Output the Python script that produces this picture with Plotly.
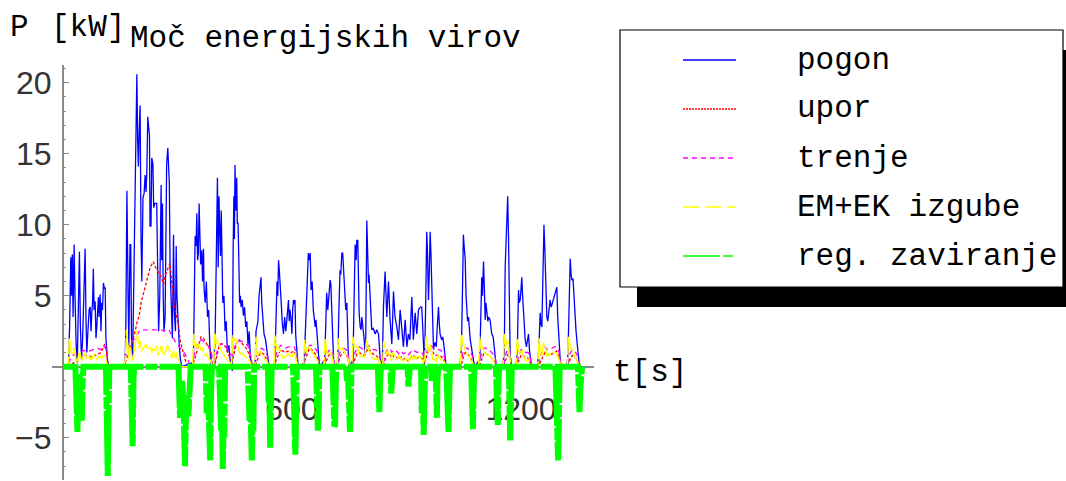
import plotly.graph_objects as go

# ---------------- data: (time [s], power [kW]) breakpoints ----------------
pogon = [
    (0, 0), (15, 0), (18, 3.0), (21, 7.7), (23, 5.0), (25, 7.9), (27, 3.5), (29.7, 8.6), (32, 5.0),
    (35, 1.5), (38, 0.3), (41, 5.0), (43.6, 8.1), (46, 3.0), (49, 0.5), (52, 2.0), (56, 6.0),
    (58.5, 8.3), (61, 3.0), (63, 1.0), (66, 2.6), (69, 4.0), (71.6, 4.2), (74, 2.5), (76, 3.8),
    (78, 4.5), (80, 6.9), (82, 4.0), (84.7, 4.6), (87, 2.0), (89, 2.8), (91, 4.5), (93.4, 4.9),
    (95, 3.5), (97.8, 5.1), (100, 2.5), (102, 4.5), (104, 4.0), (106.5, 5.9), (109, 5.5),
    (111, 5.6), (113, 2.0), (115, 0.8), (118, 0.1), (120, 0),
    (163, 0), (165, 2.5), (168, 12.4), (171, 5.0), (173, 1.5), (176, 8.6), (178, 8.6), (180, 2.0),
    (183, 0.5), (186, 6.0), (190, 13.2), (194, 20.6), (196, 16.0), (198, 14.1), (200, 16.5),
    (202.5, 18.4), (205, 9.0), (207, 6.0), (210, 11.9), (213, 12.2), (215.6, 13.5), (218, 12.3),
    (220, 13.6), (222.6, 17.6), (225, 16.8), (227, 16.3), (228.5, 9.9), (231, 9.9), (233, 14.7),
    (236, 14.3), (238, 11.2), (241, 11.5), (246, 11.5), (248, 7.0), (251, 2.5), (254, 5.0),
    (257.5, 12.8), (259, 7.5), (261, 11.5), (263, 5.0), (265, 2.5), (268, 3.5), (270, 9.0),
    (272, 14.3), (275, 15.4), (277, 13.0), (279, 12.9), (281, 7.0), (284, 3.5), (287, 2.0),
    (290, 9.3), (292, 4.0), (295, 2.5), (297, 8.5), (299, 5.0), (302, 3.0), (305, 1.5),
    (308, 0.5), (312, 0),
    (342, 0.3), (344, 5.0), (346.6, 9.2), (349, 8.5), (351, 10.8), (353, 7.5), (355, 8.0),
    (357, 11.5), (359, 8.5), (361, 7.2), (364, 8.2), (366, 6.0), (368.5, 8.3), (370, 5.5),
    (373, 4.5), (376, 6.0), (379, 3.5), (382, 4.0), (385, 1.5), (388, 0.2), (392, 0),
    (395, 0), (399, 2.0), (402, 9.0), (405, 13.3), (407, 7.0), (409, 12.0), (411, 9.6),
    (413, 7.8), (415, 11.0), (417, 6.0), (419, 4.5), (422, 5.0), (425, 2.5), (428, 3.2),
    (431, 1.0), (435, 1.5), (438, 0.5), (441, 0.2), (444, -0.3), (446, 8.0), (448, 12.0),
    (449.5, 9.0), (451, 14.2), (453, 11.0), (455.5, 13.3), (457, 10.1), (459, 10.1), (461, 7.5),
    (463, 4.5), (465, 5.0), (467, 4.2), (470, 4.7), (473, 3.6), (476, 4.2), (479, 2.8),
    (482, 3.2), (485, 1.5), (488, 2.5), (491, 0.8), (495, 0),
    (504, 0.3), (506, 2.5), (508, 2.8), (511, 3.2), (514, 5.0), (517, 6.2), (519, 6.3),
    (521, 4.5), (524, 3.5), (527, 2.3), (531, 1.9), (535, 0.8), (539, 0.2), (542, 0),
    (555, 0.2), (558, 3.0), (561, 6.0), (563, 5.0), (565, 7.5), (567, 6.8), (569, 5.4),
    (572, 4.5), (575, 3.0), (578, 2.3), (581, 3.5), (584, 2.5), (586.7, 3.3), (589, 4.2),
    (591, 4.7), (593, 3.2), (595, 4.0), (598, 3.2), (600, 2.3), (602, 4.0), (604, 4.7),
    (606, 4.4), (608, 4.7), (610, 2.2), (613, 0.9), (616, 0.1), (619, 0),
    (632, 0.3), (636, 3.0), (640, 6.5), (643, 8.0), (646, 7.5), (648, 8.0), (650, 5.4),
    (653, 6.0), (656, 4.0), (658, 3.5), (661, 2.8), (663, 3.3), (665, 2.3), (668, 1.5),
    (671, 0.3), (674, 0),
    (686, 0.5), (689, 3.5), (691, 5.2), (694, 4.0), (697, 5.5), (700, 6.1), (702, 5.8),
    (704.5, 4.2), (706, 3.0), (709, 0.5), (712, 0),
    (720, 0.3), (723, 4.0), (726, 6.8), (728, 6.5), (730.7, 8.0), (733, 8.0), (735, 6.8),
    (737, 5.5), (739.4, 4.2), (741, 4.0), (743.8, 4.5), (746, 2.0), (748, 0.5), (751, 0),
    (760, 0.5), (763, 5.0), (765.6, 8.6), (768, 7.5), (770, 8.9), (772.5, 8.9), (774.3, 4.7),
    (776, 3.8), (778.7, 2.8), (781, 2.6), (783, 3.5), (786, 2.8), (789, 2.0), (791.8, 0.8),
    (793, 1.0), (796.1, 10.3), (798, 8.0), (800.5, 5.9), (802, 6.5), (804.9, 4.7), (807, 3.5),
    (809, 2.6), (813, 2.7), (818, 2.3), (822, 2.6), (826.7, 2.3), (829, 1.5), (831, 0.5),
    (834, 0),
    (837, 0.5), (839.8, 4.3), (844, 6.7), (848.5, 3.5), (852.9, 6.0), (857, 3.3), (861.6, 1.6),
    (866, 5.3), (870, 3.5), (874.7, 2.8), (879, 1.9), (883.4, 4.0), (887.8, 2.3), (892, 1.4),
    (896.5, 3.3), (901, 1.4), (905, 2.3), (909, 1.9), (914, 4.9), (918, 1.9), (922.7, 3.8),
    (927, 2.3), (931.5, 4.0), (936, 4.2), (940, 4.2), (944.5, 1.4), (947, 0.2),
    (950, 4.0), (953, 9.5), (955, 8.0), (957.6, 4.7), (960, 7.0), (962, 9.5), (964, 8.0),
    (966.4, 5.2), (968, 3.0), (970.7, 1.2), (974, 1.7), (978, 1.4), (981, 3.0), (983.8, 4.2),
    (986, 3.0), (988, 2.3), (992, 1.9), (995, 2.1), (998, 1.5), (1001, 0.5), (1004, 0),
    (1040, 0), (1044, 1.4), (1047, 6.0), (1049, 9.3), (1051, 8.5), (1053.7, 7.6), (1056, 5.0),
    (1058, 4.0), (1060, 3.2), (1062.4, 3.5), (1065, 2.5), (1067, 1.9), (1071, 1.2),
    (1075.5, 0.5), (1078, 0),
    (1092, 0.5), (1095, 4.0), (1097, 6.3), (1099, 5.0), (1101.7, 7.4), (1104, 5.5), (1106, 3.3),
    (1108, 4.5), (1110.4, 3.8), (1113, 3.2), (1115, 3.5), (1119, 3.3), (1121, 2.8),
    (1123.5, 2.3), (1127, 2.1), (1130, 1.2), (1132, 0.5), (1135, 0),
    (1152, 0), (1156, 1.0), (1158.4, 7.0), (1161, 9.0), (1165, 12.0), (1167, 9.4), (1169, 5.0),
    (1171.5, 0.7), (1174, 0),
    (1186, 0), (1190, 1.0), (1193.4, 5.4), (1195, 4.5), (1197.8, 4.7), (1200, 5.5), (1202, 6.3),
    (1204, 5.0), (1206.4, 3.8), (1208, 2.8), (1210.8, 1.9), (1214, 1.4), (1217, 2.0),
    (1219.5, 2.3), (1222, 1.2), (1224, 0.5), (1227, 0),
    (1243, 0), (1247, 1.5), (1250, 3.8), (1252, 3.0), (1254.5, 2.8), (1257, 7.0), (1260, 10.0),
    (1262, 8.5), (1264, 7.0), (1266, 5.0), (1267.5, 3.5), (1270, 3.2), (1273, 4.0), (1276, 4.7),
    (1279, 4.2), (1282, 4.5), (1285, 4.9), (1289, 5.1), (1293.7, 5.6), (1296, 3.5), (1298, 2.3),
    (1300, 1.2), (1302.5, 0.5), (1305, 0),
    (1320, 0), (1323, 1.0), (1326, 5.0), (1328.7, 7.6), (1331, 6.5), (1333, 6.1), (1336, 6.2),
    (1338, 5.0), (1341.8, 3.5), (1344, 2.5), (1346, 1.9), (1348.5, 1.0), (1350.5, 0.5),
    (1353, 0), (1360, 0),
]

upor = [
    (0, 0), (15, 0), (25, 0.2), (35, 0.4), (45, 0.6), (55, 0.8), (65, 0.8), (75, 0.7), (85, 0.8),
    (95, 0.9), (100, 1.0), (105, 1.3), (110, 1.6), (114, 1.2), (118, 0.2), (120, 0),
    (160, 0), (165, 0.4), (172, 1.0), (180, 1.5), (188, 2.3), (195, 3.2), (200, 3.6), (205, 4.5),
    (212, 5.2), (220, 5.9), (229, 7.0), (237, 7.4), (246, 6.8), (255, 6.5), (264, 5.8),
    (268, 6.4), (275, 6.9), (281, 7.3), (285, 6.0), (290, 4.7), (298, 3.5), (303, 3.0),
    (307, 1.9), (313, 1.2), (320, 0.5), (328, 0.1), (335, 0),
    (338, 0), (344, 0.4), (350, 1.0), (356, 1.6), (362, 2.1), (368, 2.0), (374, 1.7), (380, 1.5),
    (386, 1.2), (390, 0.5), (393, 0),
    (397, 0), (402, 0.6), (408, 1.3), (414, 1.6), (420, 1.6), (426, 1.4), (432, 1.0), (438, 0.6),
    (444, 0.4), (450, 1.2), (456, 1.8), (462, 1.9), (468, 1.7), (474, 1.5), (480, 1.3),
    (486, 1.0), (492, 0.5), (497, 0),
    (503, 0), (508, 0.4), (514, 0.8), (520, 1.0), (526, 0.9), (532, 0.6), (538, 0.3), (542, 0),
    (552, 0), (558, 0.4), (564, 0.9), (570, 1.2), (576, 1.1), (582, 1.0), (590, 1.1), (598, 1.0),
    (606, 1.1), (612, 0.6), (618, 0),
    (628, 0), (634, 0.4), (640, 0.9), (646, 1.3), (652, 1.2), (658, 1.0), (664, 0.8), (670, 0.4),
    (676, 0),
    (684, 0), (690, 0.4), (696, 0.8), (702, 0.9), (708, 0.5), (713, 0),
    (718, 0), (724, 0.5), (730, 0.9), (736, 1.0), (742, 0.9), (748, 0.4), (752, 0),
    (758, 0), (764, 0.5), (770, 0.9), (776, 1.0), (782, 0.9), (788, 0.8), (794, 1.0), (800, 1.3),
    (806, 1.1), (812, 0.9), (818, 0.8), (824, 0.7), (830, 0.4), (835, 0),
    (838, 0), (844, 0.5), (850, 0.8), (856, 0.9), (862, 0.6), (868, 0.8), (874, 0.7), (880, 0.5),
    (886, 0.7), (892, 0.5), (898, 0.6), (904, 0.4), (910, 0.6), (916, 0.8), (922, 0.7),
    (928, 0.6), (934, 0.7), (940, 0.6), (946, 0.3), (950, 0.5), (956, 1.0), (962, 1.3),
    (968, 1.1), (974, 0.8), (980, 0.8), (986, 0.8), (992, 0.7), (998, 0.5), (1004, 0),
    (1042, 0), (1048, 0.6), (1054, 1.0), (1060, 0.9), (1066, 0.7), (1072, 0.4), (1078, 0),
    (1090, 0), (1096, 0.5), (1102, 0.9), (1108, 0.9), (1114, 0.8), (1120, 0.7), (1126, 0.5),
    (1132, 0.3), (1136, 0),
    (1154, 0), (1160, 0.5), (1166, 0.9), (1172, 0.5), (1176, 0),
    (1188, 0), (1194, 0.4), (1200, 0.8), (1206, 0.8), (1212, 0.6), (1218, 0.6), (1224, 0.3),
    (1228, 0),
    (1245, 0), (1251, 0.4), (1257, 0.7), (1263, 1.0), (1269, 0.8), (1275, 0.8), (1281, 0.9),
    (1287, 1.0), (1293, 1.1), (1299, 0.7), (1305, 0),
    (1322, 0), (1328, 0.5), (1334, 0.8), (1340, 0.7), (1346, 0.5), (1352, 0), (1360, 0),
]

trenje = [
    (0, 0), (15, 0), (18, 0.4), (25, 0.8), (35, 0.9), (45, 1.0), (55, 1.1), (62, 1.2), (70, 1.1),
    (80, 1.2), (90, 1.3), (100, 1.2), (106, 1.5), (112, 1.3), (117, 0.4), (120, 0),
    (160, 0), (165, 0.8), (172, 1.3), (180, 1.8), (186, 1.9), (192, 2.1), (198, 2.4), (204, 2.6),
    (215, 2.6), (230, 2.6), (245, 2.6), (258, 2.6), (265, 2.5), (270, 2.6), (278, 2.6),
    (284, 2.3), (290, 1.9), (298, 1.6), (305, 1.4), (312, 1.2), (320, 0.9), (328, 0.5), (334, 0),
    (338, 0), (344, 0.8), (350, 1.3), (356, 1.7), (362, 1.9), (368, 1.8), (374, 1.6), (380, 1.5),
    (386, 1.3), (392, 0.6), (395, 0),
    (397, 0), (402, 0.9), (408, 1.4), (414, 1.6), (420, 1.6), (426, 1.5), (432, 1.2), (438, 0.9),
    (444, 0.8), (450, 1.4), (456, 1.7), (462, 1.8), (468, 1.8), (474, 1.7), (480, 1.6),
    (486, 1.4), (492, 0.8), (497, 0),
    (503, 0), (508, 0.8), (514, 1.1), (520, 1.3), (526, 1.2), (532, 1.0), (538, 0.6), (542, 0),
    (552, 0), (558, 0.8), (564, 1.2), (570, 1.5), (576, 1.4), (582, 1.3), (590, 1.4), (598, 1.4),
    (606, 1.4), (612, 0.9), (618, 0),
    (628, 0), (634, 0.8), (640, 1.2), (646, 1.5), (652, 1.5), (658, 1.3), (664, 1.2), (670, 0.8),
    (676, 0),
    (684, 0), (690, 0.8), (696, 1.1), (702, 1.2), (708, 0.9), (713, 0),
    (718, 0), (724, 0.9), (730, 1.2), (736, 1.3), (742, 1.2), (748, 0.8), (752, 0),
    (758, 0), (764, 0.9), (770, 1.3), (776, 1.4), (782, 1.3), (788, 1.2), (794, 1.3), (800, 1.5),
    (806, 1.4), (812, 1.2), (818, 1.2), (824, 1.1), (830, 0.8), (835, 0),
    (838, 0), (844, 0.9), (850, 1.2), (856, 1.3), (862, 1.0), (868, 1.2), (874, 1.1), (880, 0.9),
    (886, 1.1), (892, 0.9), (898, 1.0), (904, 0.8), (910, 1.0), (916, 1.2), (922, 1.1),
    (928, 1.0), (934, 1.1), (940, 1.0), (946, 0.7), (950, 0.9), (956, 1.3), (962, 1.5),
    (968, 1.4), (974, 1.2), (980, 1.2), (986, 1.2), (992, 1.1), (998, 0.9), (1004, 0),
    (1042, 0), (1048, 1.0), (1054, 1.3), (1060, 1.3), (1066, 1.1), (1072, 0.8), (1078, 0),
    (1090, 0), (1096, 0.9), (1102, 1.3), (1108, 1.3), (1114, 1.2), (1120, 1.1), (1126, 0.9),
    (1132, 0.7), (1136, 0),
    (1154, 0), (1160, 0.9), (1166, 1.3), (1172, 0.9), (1176, 0),
    (1188, 0), (1194, 0.8), (1200, 1.2), (1206, 1.2), (1212, 1.0), (1218, 1.0), (1224, 0.7),
    (1228, 0),
    (1245, 0), (1251, 0.8), (1257, 1.1), (1263, 1.4), (1269, 1.2), (1275, 1.2), (1281, 1.3),
    (1287, 1.4), (1293, 1.4), (1299, 1.1), (1305, 0),
    (1322, 0), (1328, 0.9), (1334, 1.2), (1340, 1.1), (1346, 0.9), (1352, 0), (1360, 0),
]

izgube = [
    (0, 0), (15, 0), (17, 2.0), (20, 1.6), (23, 0.9), (26, 1.2), (30, 1.3), (34, 0.5), (38, 0.3),
    (42, 0.9), (45, 1.0), (49, 0.4), (54, 0.7), (58, 1.0), (62, 0.5), (66, 0.6), (70, 0.7),
    (74, 0.5), (78, 0.6), (81, 0.9), (85, 0.6), (89, 0.5), (93, 0.7), (98, 0.7), (102, 0.6),
    (107, 0.8), (111, 0.8), (115, 0.3), (119, 0),
    (160, 0), (164, 0.5), (167, 2.6), (170, 1.2), (173, 0.5), (176, 1.4), (179, 1.0), (183, 0.4),
    (187, 1.0), (191, 1.9), (194, 2.5), (197, 1.9), (200, 1.3), (203, 1.8), (206, 1.1),
    (210, 1.3), (214, 1.4), (218, 1.6), (222, 1.3), (226, 1.2), (230, 1.4), (234, 1.0),
    (238, 1.3), (242, 1.1), (246, 1.5), (250, 0.8), (254, 1.0), (258, 1.5), (262, 1.0),
    (266, 0.8), (270, 1.2), (274, 1.5), (278, 1.3), (282, 0.9), (286, 0.6), (290, 1.1),
    (294, 0.6), (297, 1.0), (301, 0.5), (305, 0.3), (310, 0),
    (340, 0), (343, 2.3), (346, 1.4), (350, 1.6), (353, 1.2), (357, 1.6), (361, 1.2), (365, 1.3),
    (369, 1.0), (373, 0.8), (377, 0.9), (381, 0.6), (385, 0.5), (389, 0.3), (392, 0),
    (395, 0), (398, 2.4), (402, 1.6), (405, 1.9), (409, 1.5), (413, 1.3), (417, 1.0), (421, 0.9),
    (425, 0.6), (429, 0.6), (433, 0.4), (438, 0.3), (442, 0.2), (445, 2.2), (448, 1.8),
    (451, 2.0), (455, 1.8), (459, 1.5), (463, 1.0), (467, 0.9), (471, 0.9), (475, 0.8),
    (479, 0.7), (483, 0.6), (487, 0.5), (491, 0.3), (495, 0),
    (503, 0), (506, 2.1), (509, 0.8), (513, 0.9), (517, 1.1), (521, 0.9), (525, 0.7), (529, 0.5),
    (534, 0.4), (539, 0.2), (542, 0),
    (553, 0), (556, 2.2), (560, 1.2), (565, 1.4), (569, 1.0), (573, 0.8), (578, 0.6), (582, 0.7),
    (587, 0.8), (591, 0.9), (595, 0.8), (600, 0.6), (604, 0.9), (608, 0.9), (612, 0.4), (617, 0),
    (630, 0), (633, 1.9), (637, 1.0), (641, 1.3), (645, 1.4), (649, 1.2), (653, 1.0), (657, 0.8),
    (661, 0.6), (665, 0.5), (670, 0.3), (675, 0),
    (684, 0), (687, 2.0), (691, 1.0), (695, 0.9), (699, 1.1), (703, 0.9), (707, 0.5), (711, 0),
    (718, 0), (721, 2.0), (725, 1.2), (729, 1.3), (733, 1.3), (737, 1.0), (741, 0.8), (745, 0.7),
    (749, 0.3), (752, 0),
    (757, 0), (760, 2.1), (764, 1.3), (768, 1.4), (772, 1.4), (776, 0.9), (780, 0.7), (784, 0.7),
    (788, 0.6), (792, 0.9), (795, 1.9), (798, 1.5), (802, 1.1), (806, 0.9), (810, 0.6),
    (815, 0.6), (820, 0.5), (825, 0.6), (830, 0.4), (834, 0),
    (838, 0), (840, 1.8), (844, 1.2), (848, 0.8), (852, 1.1), (856, 0.7), (860, 0.4), (864, 1.0),
    (868, 0.8), (872, 0.6), (876, 0.5), (880, 0.8), (884, 0.6), (888, 0.4), (892, 0.4),
    (896, 0.7), (900, 0.5), (904, 0.5), (908, 0.4), (912, 0.9), (916, 0.6), (920, 0.7),
    (924, 0.5), (928, 0.7), (932, 0.7), (936, 0.6), (940, 0.7), (944, 0.3), (948, 0.5),
    (951, 2.1), (954, 1.6), (958, 1.0), (962, 1.6), (966, 1.0), (970, 0.4), (974, 0.5),
    (978, 0.4), (982, 0.8), (986, 0.6), (990, 0.5), (995, 0.5), (1000, 0.3), (1004, 0),
    (1041, 0), (1044, 2.3), (1048, 1.6), (1052, 1.4), (1056, 1.0), (1060, 0.8), (1064, 0.7),
    (1068, 0.5), (1072, 0.3), (1077, 0),
    (1089, 0), (1092, 2.1), (1096, 1.2), (1100, 1.4), (1104, 1.0), (1108, 0.9), (1112, 0.8),
    (1116, 0.8), (1120, 0.7), (1124, 0.5), (1128, 0.4), (1132, 0.2), (1135, 0),
    (1153, 0), (1156, 2.3), (1159, 1.3), (1163, 1.9), (1166, 1.7), (1169, 0.9), (1172, 0.3),
    (1175, 0),
    (1187, 0), (1190, 2.0), (1194, 1.1), (1198, 1.0), (1202, 1.2), (1206, 0.8), (1210, 0.5),
    (1214, 0.4), (1218, 0.5), (1222, 0.3), (1226, 0),
    (1244, 0), (1247, 2.0), (1251, 0.9), (1255, 0.8), (1259, 1.7), (1263, 1.5), (1267, 0.8),
    (1271, 0.8), (1275, 0.9), (1279, 0.9), (1283, 0.9), (1287, 1.0), (1291, 1.0), (1295, 0.8),
    (1299, 0.5), (1303, 0.2), (1306, 0),
    (1321, 0), (1324, 2.1), (1328, 1.5), (1332, 1.2), (1336, 1.2), (1340, 0.8), (1344, 0.5),
    (1348, 0.3), (1352, 0), (1360, 0),
]

zaviranje = [
    (0, 0), (33, 0), (36, -2.5), (38.4, -4.6), (41, -1.5), (44, -0.5), (47, -2.5), (49.8, -3.8),
    (52, -1.0), (54, 0),
    (113, 0), (115, -2.0), (117.9, -7.7), (120, -3.0), (122, 0),
    (178, 0), (181, -3.0), (183, -5.6), (185, -1.0), (187, 0),
    (303, 0), (305, -1.0), (307, -3.6), (309, -2.0), (312, -1.0), (316, -2.5), (320, -7.0),
    (323, -3.0), (326, -2.0), (329, -3.5), (331, -1.0), (333, -2.7), (335, 0),
    (374, 0), (377, -3.3), (380, -1.5), (383, -4.5), (386, -6.6), (388, -2.0), (390, 0),
    (409, 0), (412, -2.5), (414.7, -4.5), (417, -3.0), (419, -7.2), (421, -4.0), (423, -5.0),
    (425, 0),
    (484, 0), (486, -2.0), (489, -3.8), (491, -2.5), (495, -6.6), (497, -4.0), (499, -4.5),
    (501, 0),
    (537, 0), (539, -2.5), (541, -1.5), (543, -5.7), (545, -2.0), (547, 0),
    (603, 0), (605, -2.0), (607, -3.5), (609, -6.2), (611, -3.0), (613, 0),
    (663, 0), (665, -2.5), (668, -4.5), (670, -3.5), (672, 0),
    (706, 0), (708, -1.3), (711, -4.2), (713, -4.1), (715, -1.0), (717, 0),
    (742, 0), (744, -1.0), (746, 0), (749, -2.5), (752, -4.6), (754, -3.0), (756, 0),
    (825, 0), (827, -1.5), (829, -3.2), (831, -1.0), (833, 0),
    (858, 0), (860, -1.9), (862, -1.0), (864, 0),
    (903, 0), (905, -1.4), (907, -0.8), (909, 0),
    (938, 0), (940, -3.3), (942, -1.0), (945, -4.8), (947, -3.0), (949, 0),
    (964, 0), (966, -1.0), (968, 0),
    (976, 0), (978, -2.0), (979.5, -3.6), (981, -1.0), (983, 0),
    (1004, 0), (1006, -1.5), (1008, -3.0), (1010, -4.6), (1012, -2.0), (1014, 0),
    (1069, 0), (1071, -2.0), (1074, -4.4), (1076, -1.5), (1078, 0),
    (1134, 0), (1136, -2.5), (1139, -4.1), (1141, -1.0), (1143, 0),
    (1168, 0), (1170, -2.0), (1171.5, -5.2), (1174, -2.0), (1176, 0),
    (1290, 0), (1292, -4.0), (1294, -2.0), (1297, -6.6), (1299, -4.0), (1301, 0),
    (1349, 0), (1351, -1.5), (1353, -3.2), (1355, -1.5), (1357, 0), (1360, 0),
]

series_names = ["pogon", "upor", "trenje", "EM+EK izgube", "reg. zaviranje"]
series_data = [pogon, upor, trenje, izgube, zaviranje]
series_colors = ["#0000ff", "#ff0000", "#ff00ff", "#ffff00", "#00ff00"]
series_widths = [1.3, 1.3, 1.3, 1.6, 6]
series_dash = ["solid", "3px,2px", "5px,4px", "16px,2px", "60px,2px,12px,2px"]

x_ticks = [600, 1200]
y_ticks = [-5, 5, 10, 15, 20]

title_text = "Moč energijskih virov"
x_label = "t[s]"

# ---------------- figure geometry (pixels) ----------------
W, H = 1066, 481


def fx(p):
    return p / W


def fy(p):
    return 1 - p / H


MONO = "Liberation Mono, Courier New, monospace"
SANS = "Liberation Sans, Arial, sans-serif"
AXIS_GRAY = "#8a8a8a"

fig = go.Figure()
for name, data, col, w, d in zip(series_names, series_data, series_colors, series_widths, series_dash):
    fig.add_trace(go.Scatter(
        x=[p[0] for p in data], y=[p[1] for p in data], mode="lines", name=name,
        line=dict(color=col, width=w, dash=d), showlegend=False, hoverinfo="skip",
    ))

fig.update_layout(
    template="none",
    width=W, height=H, autosize=False,
    margin=dict(l=0, r=0, t=0, b=0, pad=0),
    paper_bgcolor="white", plot_bgcolor="rgba(0,0,0,0)",
    showlegend=False,
    xaxis=dict(
        domain=[fx(51.7), fx(594)], range=[-29, 1391],
        anchor="free", position=fy(366.7),
        showline=True, linecolor=AXIS_GRAY, linewidth=1.5,
        showgrid=False, zeroline=False,
        tickmode="array", tickvals=x_ticks, ticktext=[str(v) for v in x_ticks],
        ticks="", ticklabelstandoff=14,
        tickfont=dict(family=SANS, size=32, color="#333333"),
        layer="below traces", automargin=False,
    ),
    yaxis=dict(
        domain=[fy(480), fy(65)], range=[-7.98, 21.25],
        anchor="free", position=fx(62.7),
        showline=True, linecolor=AXIS_GRAY, linewidth=1.5,
        showgrid=False, zeroline=False,
        tickmode="array", tickvals=y_ticks, ticktext=[str(v).replace("-", "\u2212") for v in y_ticks],
        ticks="inside", ticklen=6, tickwidth=1, tickcolor=AXIS_GRAY,
        minor=dict(tickmode="linear", tick0=0, dtick=1, ticks="inside", ticklen=3,
                   tickwidth=1, tickcolor=AXIS_GRAY),
        ticklabelstandoff=4,
        tickfont=dict(family=SANS, size=32, color="#333333"),
        layer="below traces", automargin=False,
    ),
)

# axis labels and chart title
fig.add_annotation(text="P", x=fx(8), y=fy(27), xref="paper", yref="paper",
                   xanchor="left", yanchor="middle", showarrow=False,
                   font=dict(family=MONO, size=31, color="black"))
fig.add_annotation(text="[kW]", x=fx(49), y=fy(27), xref="paper", yref="paper",
                   xanchor="left", yanchor="middle", showarrow=False,
                   font=dict(family=MONO, size=31, color="black"))
fig.add_annotation(text=title_text, x=fx(128), y=fy(38), xref="paper", yref="paper",
                   xanchor="left", yanchor="middle", showarrow=False,
                   font=dict(family=MONO, size=31, color="black"))
fig.add_annotation(text=x_label, x=fx(611), y=fy(372), xref="paper", yref="paper",
                   xanchor="left", yanchor="middle", showarrow=False,
                   font=dict(family=MONO, size=31, color="black"))

# legend box with drop shadow
fig.add_shape(type="rect", xref="paper", yref="paper",
              x0=fx(637), x1=fx(1080), y0=fy(307), y1=fy(50),
              fillcolor="black", line=dict(width=0), layer="above")
fig.add_shape(type="rect", xref="paper", yref="paper",
              x0=fx(620), x1=fx(1063), y0=fy(287), y1=fy(30),
              fillcolor="white", line=dict(color="black", width=1.2), layer="above")

legend_rows = [60, 109, 158, 207, 256]
legend_dash = ["solid", "2px,1px", "5px,4px", "17px,5px", "37px,3px,10px,3px"]
for name, col, d, yc in zip(series_names, series_colors, legend_dash, legend_rows):
    fig.add_shape(type="line", xref="paper", yref="paper",
                  x0=fx(683), x1=fx(736), y0=fy(yc), y1=fy(yc),
                  line=dict(color=col, width=1.3, dash=d), layer="above")
    fig.add_annotation(text=name, x=fx(795), y=fy(yc), xref="paper", yref="paper",
                       xanchor="left", yanchor="middle", showarrow=False,
                       font=dict(family=MONO, size=31, color="black"))

fig.write_html("out.html")
